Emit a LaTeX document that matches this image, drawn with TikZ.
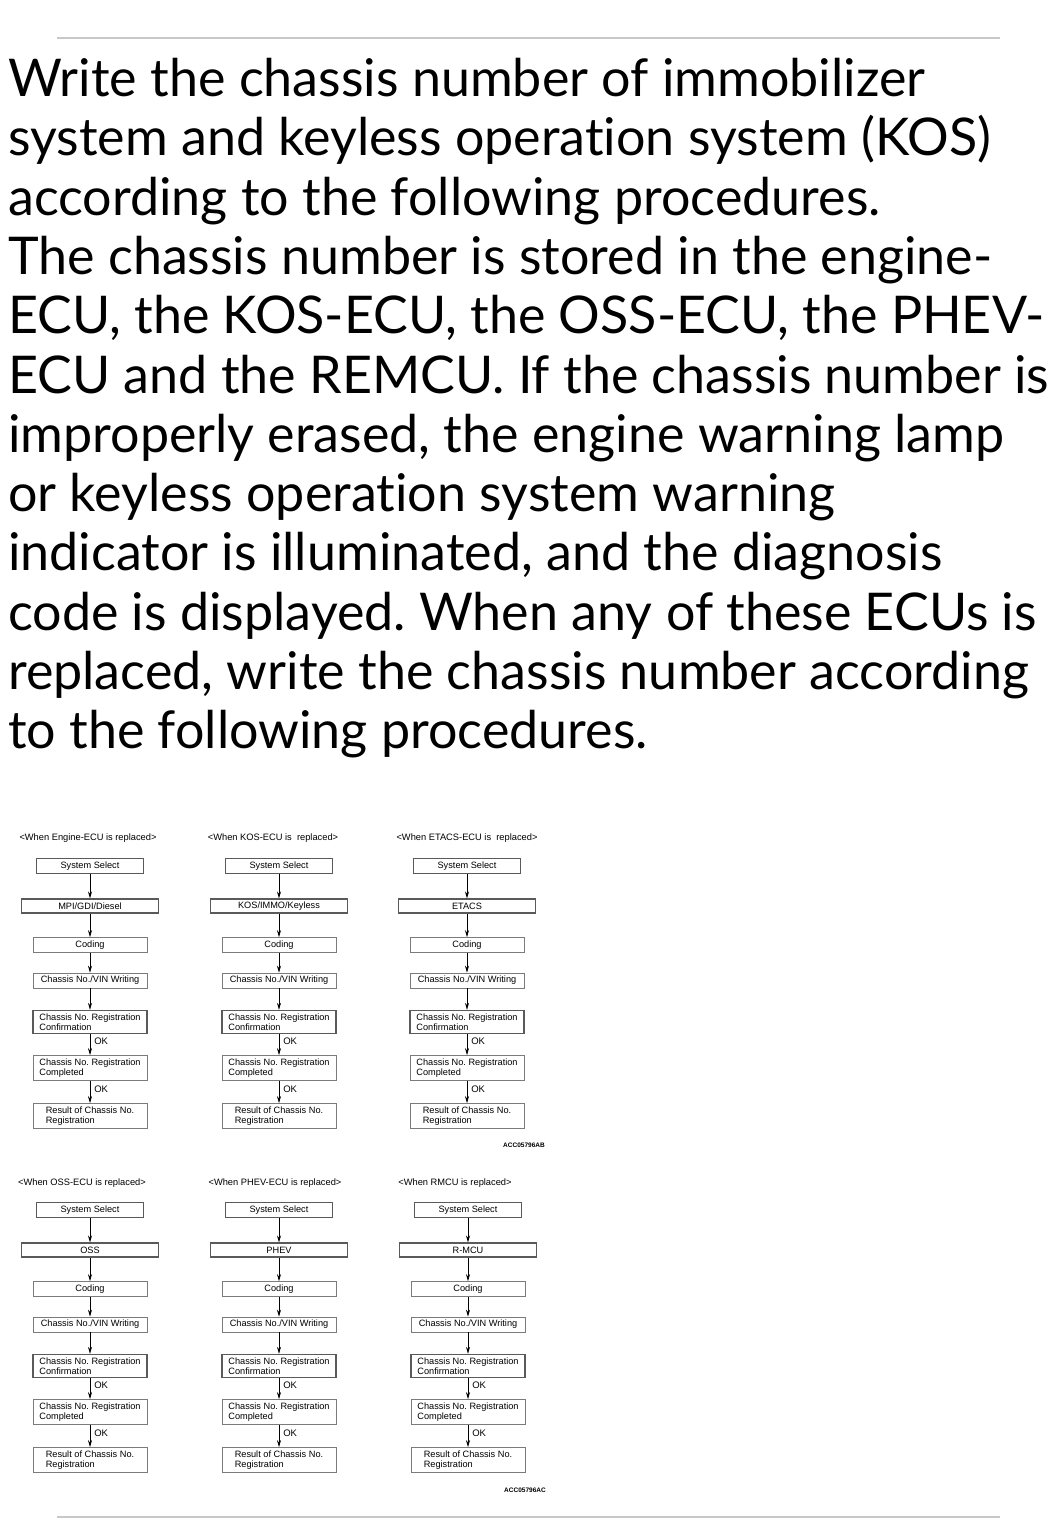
\documentclass[tikz,border=0pt]{standalone}
\usepackage{fontspec}
\usepackage{tikz}
\usetikzlibrary{arrows.meta, shapes.geometric}
\newfontfamily\parafont[Ligatures=NoCommon]{Lato}
\newfontfamily\chartfont{Liberation Sans}
\definecolor{rule}{RGB}{200, 200, 200}
\definecolor{edge}{RGB}{90, 90, 90}
\tikzstyle{title} = [inner sep=1pt, font=\chartfont\fontsize{9.3}{10.5}\selectfont]
\tikzstyle{selbox} = [rectangle, minimum width=107pt, minimum height=15pt, inner sep=1pt, text centered, draw=edge, line width=0.7pt, font=\chartfont\fontsize{9.2}{10.5}\selectfont]
\tikzstyle{sysbox} = [rectangle, minimum width=137pt, minimum height=14pt, inner sep=1pt, text centered, draw=edge, line width=1.1pt, font=\chartfont\fontsize{9.2}{10.5}\selectfont]
\tikzstyle{stepbox} = [rectangle, minimum width=114pt, minimum height=15pt, inner xsep=1pt, inner ysep=3pt, align=left, draw=edge!80, line width=0.7pt, font=\chartfont\fontsize{9.2}{10.5}\selectfont]
\tikzstyle{keybox} = [stepbox, draw=edge, line width=1.1pt]
\tikzstyle{arrow} = [line width=0.7pt, -{Stealth[length=7pt,width=4pt]}]
\tikzstyle{ok} = [anchor=west, xshift=3pt, yshift=3pt, inner sep=1pt, font=\chartfont\fontsize{9.5}{10.5}\selectfont]
\tikzstyle{code} = [inner sep=0pt, font=\chartfont\bfseries\fontsize{6.5}{7}\selectfont]

\begin{document}
\frenchspacing
\begin{tikzpicture}[x=1pt, y=-1pt, node distance=40pt]
		\useasboundingbox (0,0) rectangle (1059,1536);
		
		% Text
		\draw [rule, line width=1.5pt] (57,38) -- (1000,38);
		\node (intro) [anchor=north west, inner sep=0pt, align=left, font=\parafont\fontsize{52}{59.3}\selectfont] at (8,58) {Write the chassis number of immobilizer\\system and keyless operation system (KOS)\\according to the following procedures.\\The chassis number is stored in the engine-\\ECU, the KOS-ECU, the OSS-ECU, the PHEV-\\ECU and the REMCU. If the chassis number is\\improperly erased, the engine warning lamp\\or keyless operation system warning\\indicator is illuminated, and the diagnosis\\code is displayed. When any of these ECUs is\\replaced, write the chassis number according\\to the following procedures.};
		\draw [rule, line width=1.5pt] (57,1517) -- (1000,1517);
		
		% Nodes - Engine-ECU
		\node (engtitle) [title] at (88,838) {<When Engine-ECU is replaced>};
		\node (engsel) [selbox] at (90,866) {System Select};
		\node (engsys) [sysbox, below of=engsel] {MPI/GDI/Diesel};
		\node (engcod) [stepbox, below of=engsys, yshift=1pt] {Coding};
		\node (engvin) [stepbox, below of=engcod, yshift=4.5pt] {Chassis No./VIN Writing};
		\node (engcnf) [keybox, below of=engvin, yshift=-1.5pt] {Chassis No. Registration\\Confirmation};
		\node (engcmp) [stepbox, below of=engcnf, yshift=-6pt] {Chassis No. Registration\\Completed};
		\node (engres) [stepbox, below of=engcmp, yshift=-8pt] {Result of Chassis No.\\Registration};
		
		% Nodes - KOS-ECU
		\node (kostitle) [title] at (273,838) {<When KOS-ECU is\ \ replaced>};
		\node (kossel) [selbox] at (279,866) {System Select};
		\node (kossys) [sysbox, below of=kossel] {KOS/IMMO/Keyless};
		\node (koscod) [stepbox, below of=kossys, yshift=1pt] {Coding};
		\node (kosvin) [stepbox, below of=koscod, yshift=4.5pt] {Chassis No./VIN Writing};
		\node (koscnf) [keybox, below of=kosvin, yshift=-1.5pt] {Chassis No. Registration\\Confirmation};
		\node (koscmp) [stepbox, below of=koscnf, yshift=-6pt] {Chassis No. Registration\\Completed};
		\node (kosres) [stepbox, below of=koscmp, yshift=-8pt] {Result of Chassis No.\\Registration};
		
		% Nodes - ETACS-ECU
		\node (etatitle) [title] at (467,838) {<When ETACS-ECU is\ \ replaced>};
		\node (etasel) [selbox] at (467,866) {System Select};
		\node (etasys) [sysbox, below of=etasel] {ETACS};
		\node (etacod) [stepbox, below of=etasys, yshift=1pt] {Coding};
		\node (etavin) [stepbox, below of=etacod, yshift=4.5pt] {Chassis No./VIN Writing};
		\node (etacnf) [keybox, below of=etavin, yshift=-1.5pt] {Chassis No. Registration\\Confirmation};
		\node (etacmp) [stepbox, below of=etacnf, yshift=-6pt] {Chassis No. Registration\\Completed};
		\node (etares) [stepbox, below of=etacmp, yshift=-8pt] {Result of Chassis No.\\Registration};
		\node (codeab) [code] at (524,1145) {ACC05796AB};
		
		% Nodes - OSS-ECU
		\node (osstitle) [title] at (82,1183) {<When OSS-ECU is replaced>};
		\node (osssel) [selbox] at (90,1210) {System Select};
		\node (osssys) [sysbox, below of=osssel] {OSS};
		\node (osscod) [stepbox, below of=osssys, yshift=1pt] {Coding};
		\node (ossvin) [stepbox, below of=osscod, yshift=4.5pt] {Chassis No./VIN Writing};
		\node (osscnf) [keybox, below of=ossvin, yshift=-1.5pt] {Chassis No. Registration\\Confirmation};
		\node (osscmp) [stepbox, below of=osscnf, yshift=-6pt] {Chassis No. Registration\\Completed};
		\node (ossres) [stepbox, below of=osscmp, yshift=-8pt] {Result of Chassis No.\\Registration};
		
		% Nodes - PHEV-ECU
		\node (phvtitle) [title] at (275,1183) {<When PHEV-ECU is replaced>};
		\node (phvsel) [selbox] at (279,1210) {System Select};
		\node (phvsys) [sysbox, below of=phvsel] {PHEV};
		\node (phvcod) [stepbox, below of=phvsys, yshift=1pt] {Coding};
		\node (phvvin) [stepbox, below of=phvcod, yshift=4.5pt] {Chassis No./VIN Writing};
		\node (phvcnf) [keybox, below of=phvvin, yshift=-1.5pt] {Chassis No. Registration\\Confirmation};
		\node (phvcmp) [stepbox, below of=phvcnf, yshift=-6pt] {Chassis No. Registration\\Completed};
		\node (phvres) [stepbox, below of=phvcmp, yshift=-8pt] {Result of Chassis No.\\Registration};
		
		% Nodes - RMCU
		\node (rmctitle) [title] at (455,1183) {<When RMCU is replaced>};
		\node (rmcsel) [selbox] at (468,1210) {System Select};
		\node (rmcsys) [sysbox, below of=rmcsel] {R-MCU};
		\node (rmccod) [stepbox, below of=rmcsys, yshift=1pt] {Coding};
		\node (rmcvin) [stepbox, below of=rmccod, yshift=4.5pt] {Chassis No./VIN Writing};
		\node (rmccnf) [keybox, below of=rmcvin, yshift=-1.5pt] {Chassis No. Registration\\Confirmation};
		\node (rmccmp) [stepbox, below of=rmccnf, yshift=-6pt] {Chassis No. Registration\\Completed};
		\node (rmcres) [stepbox, below of=rmccmp, yshift=-8pt] {Result of Chassis No.\\Registration};
		\node (codeac) [code] at (525,1490) {ACC05796AC};
		
		% Arrows
		\draw [arrow] (engsel) -- (engsys);
		\draw [arrow] (engsys) -- (engcod);
		\draw [arrow] (engcod) -- (engvin);
		\draw [arrow] (engvin) -- (engcnf);
		\draw [arrow] (engcnf) -- node[ok] {OK} (engcmp);
		\draw [arrow] (engcmp) -- node[ok] {OK} (engres);
		
		\draw [arrow] (kossel) -- (kossys);
		\draw [arrow] (kossys) -- (koscod);
		\draw [arrow] (koscod) -- (kosvin);
		\draw [arrow] (kosvin) -- (koscnf);
		\draw [arrow] (koscnf) -- node[ok] {OK} (koscmp);
		\draw [arrow] (koscmp) -- node[ok] {OK} (kosres);
		
		\draw [arrow] (etasel) -- (etasys);
		\draw [arrow] (etasys) -- (etacod);
		\draw [arrow] (etacod) -- (etavin);
		\draw [arrow] (etavin) -- (etacnf);
		\draw [arrow] (etacnf) -- node[ok] {OK} (etacmp);
		\draw [arrow] (etacmp) -- node[ok] {OK} (etares);
		
		\draw [arrow] (osssel) -- (osssys);
		\draw [arrow] (osssys) -- (osscod);
		\draw [arrow] (osscod) -- (ossvin);
		\draw [arrow] (ossvin) -- (osscnf);
		\draw [arrow] (osscnf) -- node[ok] {OK} (osscmp);
		\draw [arrow] (osscmp) -- node[ok] {OK} (ossres);
		
		\draw [arrow] (phvsel) -- (phvsys);
		\draw [arrow] (phvsys) -- (phvcod);
		\draw [arrow] (phvcod) -- (phvvin);
		\draw [arrow] (phvvin) -- (phvcnf);
		\draw [arrow] (phvcnf) -- node[ok] {OK} (phvcmp);
		\draw [arrow] (phvcmp) -- node[ok] {OK} (phvres);
		
		\draw [arrow] (rmcsel) -- (rmcsys);
		\draw [arrow] (rmcsys) -- (rmccod);
		\draw [arrow] (rmccod) -- (rmcvin);
		\draw [arrow] (rmcvin) -- (rmccnf);
		\draw [arrow] (rmccnf) -- node[ok] {OK} (rmccmp);
		\draw [arrow] (rmccmp) -- node[ok] {OK} (rmcres);
		
	\end{tikzpicture}
\end{document}
